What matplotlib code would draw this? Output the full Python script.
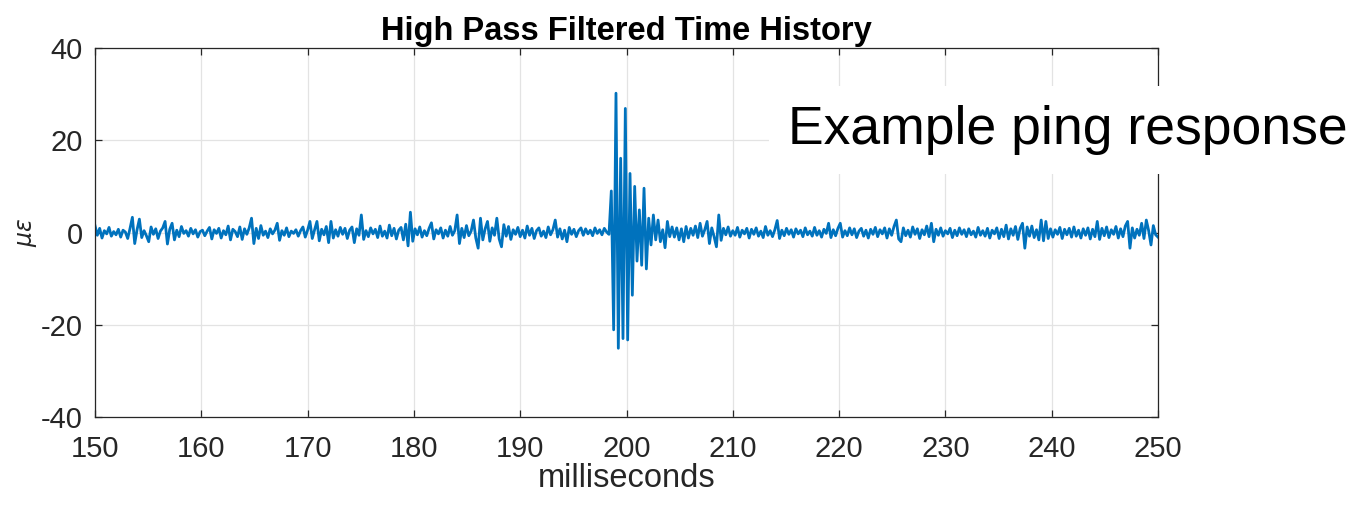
import numpy as np
import matplotlib
matplotlib.use("Agg")
import matplotlib.pyplot as plt

plt.rcParams['font.family'] = ['Liberation Sans', 'DejaVu Sans']
plt.rcParams['axes.unicode_minus'] = False

title = "High Pass Filtered Time History"
x_label = "milliseconds"
y_label = r"$\mu\epsilon$"
annotation = "Example ping response"
x_ticks = [150, 160, 170, 180, 190, 200, 210, 220, 230, 240, 250]
y_ticks = [-40, -20, 0, 20, 40]
t_start, t_end = 150, 250

strain = [
    # 150-160 ms
    1.5, -0.6, 0.9, -1.2, 0.4, -0.3, 1.1, -0.8, 0.2, -0.5,
    0.7, -1.0, 0.5, 0.1, -1.3, 0.9, 3.3, -2.4, 0.6, 2.9,
    -1.1, 0.4, -0.7, -2.0, 1.2, -0.4, 0.8, -1.3, 0.3, 1.0,
    2.4, -2.5, 0.7, 2.0, -1.6, 0.5, -0.9, 1.3, -0.2, 0.4,
    -0.8, 0.9, -0.3, 0.6, -1.0, 0.2,
    # 160-170 ms
    0.5, -0.7, 0.3, 1.1, -1.4, 0.6, -0.2, 0.9, -1.2, 0.4,
    -0.5, 1.4, -1.6, 0.7, 0.2, -0.9, 1.2, -1.5, 0.8, -0.4,
    1.0, 3.1, -2.4, 0.9, -1.3, 1.5, -0.6, 0.3, -1.1, 0.8,
    -0.3, 0.5, 2.0, -1.7, 0.4, -0.6, 1.0, -0.9, 0.3, -0.2,
    0.6, -0.8, 0.4, 1.2, -1.0, 0.5,
    # 170-180 ms
    2.4, -1.3, 0.6, 2.4, -1.8, 0.7, -0.5, 1.3, -2.2, 2.4,
    -1.2, 0.6, -0.8, 1.1, -0.4, 0.9, -1.3, 0.5, 1.2, -2.2,
    0.8, -0.6, 3.8, -1.5, 0.4, -0.9, 1.0, -0.3, 0.7, -1.1,
    1.4, -0.8, 0.3, -1.2, 1.6, -0.7, 0.9, -1.4, 0.5, 1.1,
    -1.6, 1.8, -2.9, 4.4, -1.9,
    # 180-190 ms
    0.8, -0.5, 1.2, -1.0, 0.4, -0.7, 0.9, 2.1, -1.4, 0.6,
    -0.3, 1.0, -1.2, 0.5, -0.8, 1.3, -0.6, 0.4, 3.8, -2.4,
    0.9, -1.1, 1.5, -0.7, 0.3, 2.7, -1.2, -3.4, 3.1, -1.6,
    0.8, 2.4, -1.9, 1.0, -0.6, 3.1, -1.4, -3.1, 1.7, -0.8,
    1.3, -1.5, 0.6, -0.4, 1.1, -0.9,
    # 190-200 ms (ping starts)
    0.5, -1.2, 1.4, -0.6, 0.9, -1.3, 0.4, 1.0, -0.8, 0.3,
    -1.1, 1.2, -0.5, 0.6, 2.7, -1.0, 0.8, -1.4, 0.5, -2.0,
    1.1, -0.4, 0.7, -0.9, 0.4, 1.0, -0.6, 0.8, -0.3, 0.5,
    -0.7, 1.0, -0.2, 0.6, -0.5, 0.9, 0.1, -0.4,
    9.0, -21.1, 30.2, -25.1, 16.1, -23.0, 26.9,
    # 200-210 ms
    -23.3, 12.8, -13.6, 10.0, -6.2, 4.9, -7.1, 9.6, -7.9, 3.1,
    -2.7, 3.8, -1.6, 2.7, -2.0, 0.6, -3.3, 2.4, -0.9, 1.2,
    -1.0, 1.0, -1.6, 0.8, -2.0, 1.3, -1.2, 0.9, -0.6, 1.4,
    -1.1, 2.0, -0.8, 0.6, 2.4, -2.4, 1.0, -0.9, -3.1, 3.8,
    -1.7, 0.9, -0.5, 1.2, -0.8, 0.4,
    # 210-220 ms
    -0.6, 1.1, -1.0, 0.5, -0.3, 0.9, -1.2, 0.7, -0.4, 1.0,
    -0.8, 0.3, -1.1, 1.3, -0.6, 0.4, -0.9, 0.6, 2.6, -1.3,
    0.5, -0.7, 0.9, -0.4, 0.6, -1.0, 0.8, -0.3, 0.5, -0.9,
    1.0, -0.5, 0.3, -0.8, 1.1, -0.6, 0.4, -1.0, 0.7, -0.2,
    2.0, -1.1, 0.6, -0.7, 0.9,
    # 220-230 ms
    2.0, -1.0, 0.4, -0.7, 1.0, -0.5, 0.8, -1.1, 0.3, 0.9,
    -0.8, 0.5, -1.2, 0.7, -0.4, 1.1, -0.9, 0.6, -0.3, 1.0,
    -1.2, 0.8, -0.6, 1.3, 2.7, -1.4, -2.0, 1.0, -0.7, 0.5,
    -1.0, 1.2, -0.4, 0.8, -1.3, 0.6, -0.5, 1.4, -0.9, 2.0,
    -2.0, 0.7, -0.6, 1.0, -0.8, 0.4,
    # 230-240 ms
    -0.3, 0.9, -1.1, 0.5, -0.7, 1.0, -0.4, 0.6, -0.9, 0.8,
    -0.5, 0.3, -1.0, 1.1, -0.6, 0.4, -0.8, 0.9, -1.2, 0.5,
    -0.3, 1.0, -1.3, 0.7, -0.9, 1.6, -1.4, 0.8, -0.6, 1.3,
    -1.5, 0.9, 2.0, -3.4, 1.2, -0.8, 1.4, -1.1, 0.6, -1.6,
    2.7, -1.8, 2.4, -1.3, 0.8,
    # 240-250 ms
    -1.0, 0.6, -0.4, 1.1, -1.3, 0.7, -0.5, 0.9, -1.0, 1.2,
    -0.8, 0.5, -1.2, 0.8, -0.6, 1.0, -1.4, 0.7, -0.9, 2.4,
    -1.5, 0.9, -0.7, 1.2, -1.1, 0.6, -0.4, 1.3, -1.2, 0.8,
    -0.9, 1.4, 2.4, -3.4, 1.0, -1.2, 0.7, -0.6, 2.0, -1.3,
    2.7, 0.4, -2.7, 1.5, -0.5, -1.0,
]

time_ms = np.linspace(t_start, t_end, len(strain))

W, H = 1353, 505
fig = plt.figure(figsize=(W / 100, H / 100), dpi=100)
ax = fig.add_axes([95 / W, 1 - 417 / H, (1158 - 95) / W, (417 - 48) / H])

ax.plot(time_ms, strain, color='#0072BD', lw=2.0)
ax.set_xlim(t_start, t_end)
ax.set_ylim(-40, 40)
ax.set_xticks(x_ticks)
ax.set_yticks(y_ticks)
ax.grid(True, color='#e3e3e3', lw=0.9)
ax.set_axisbelow(True)
for s in ax.spines.values():
    s.set_color('#262626')
    s.set_linewidth(0.9)
ax.tick_params(direction='in', top=True, right=True, length=5, width=0.9,
               colors='#262626', labelsize=21)
ax.tick_params(axis='x', pad=13)
ax.tick_params(axis='y', pad=9)

ax.set_title(title, fontsize=23.5, fontweight='bold', pad=6)
ax.set_xlabel(x_label, fontsize=23.5, color='#262626', labelpad=0)
ax.set_ylabel(y_label, fontsize=17, color='#262626', labelpad=1)

fig.text(1068 / W, 1 - 130 / H, annotation, fontsize=38.5, color='black',
         ha='center', va='center',
         bbox=dict(facecolor='white', edgecolor='none',
                   boxstyle='square,pad=0.35'))

fig.savefig("out.png", dpi=100)
